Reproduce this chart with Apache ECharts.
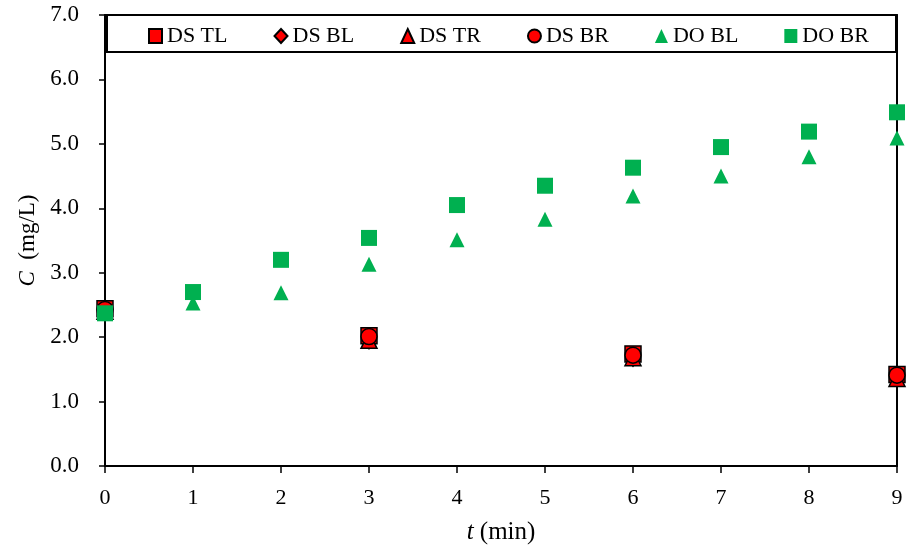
<!DOCTYPE html>
<html>
<head>
<meta charset="utf-8">
<script src="https://cdn.jsdelivr.net/npm/echarts@6/dist/echarts.min.js"></script>
<style>
  html, body { margin: 0; padding: 0; background: #fff; }
  #chart { width: 908px; height: 550px; }
</style>
</head>
<body>
<div id="chart"></div>
<script>
// Sampling times (min)
const tDS = [0, 3, 6, 9];
const tDO = [0, 1, 2, 3, 4, 5, 6, 7, 8, 9];

// Concentrations (mg/L)
const dsTL = [2.44, 2.02, 1.74, 1.42];
const dsBL = [2.40, 1.95, 1.68, 1.38];
const dsTR = [2.40, 1.95, 1.68, 1.36];
const dsBR = [2.43, 2.01, 1.72, 1.41];
const doBL = [2.37, 2.53, 2.69, 3.13, 3.51, 3.83, 4.19, 4.50, 4.80, 5.09];
const doBR = [2.37, 2.70, 3.20, 3.54, 4.05, 4.35, 4.63, 4.95, 5.19, 5.49];

const seriesNames = ['DS TL', 'DS BL', 'DS TR', 'DS BR', 'DO BL', 'DO BR'];

const FONT = '"Liberation Serif", "Times New Roman", serif';
const RED = '#FF0000';
const GREEN = '#00B050';

const pairs = (xs, ys) => xs.map((x, i) => [x, ys[i]]);

function dsSeries(name, symbol, size, data) {
  return {
    name, type: 'scatter', symbol, symbolSize: size,
    data: pairs(tDS, data),
    itemStyle: { color: RED, borderColor: '#000', borderWidth: 1.5, opacity: 1 }
  };
}
function doSeries(name, symbol, size, data) {
  return {
    name, type: 'scatter', symbol, symbolSize: size,
    data: pairs(tDO, data),
    itemStyle: { color: GREEN, opacity: 1 }
  };
}

const chart = echarts.init(document.getElementById('chart'));
chart.setOption({
  animation: false,
  backgroundColor: '#fff',
  textStyle: { fontFamily: FONT },
  grid: { left: 105, right: 11, top: 15, bottom: 84, containLabel: false },
  // framed box behind the legend
  graphic: [{
    type: 'rect', z: 0,
    shape: { x: 107, y: 15, width: 789, height: 37 },
    style: { fill: '#fff', stroke: '#000', lineWidth: 2 }
  }],
  legend: {
    data: seriesNames,
    top: 20, left: 143,
    z: 5,
    itemWidth: 13, itemHeight: 14, itemGap: 46,
    textStyle: { fontFamily: FONT, fontSize: 22, color: '#000' }
  },
  xAxis: [{
    type: 'value', min: 0, max: 9, interval: 1,
    name: '{i|t} (min)', nameLocation: 'middle', nameGap: 54,
    nameTextStyle: {
      fontFamily: FONT, fontSize: 25, color: '#000',
      rich: { i: { fontFamily: FONT, fontSize: 25, fontStyle: 'italic', color: '#000' } }
    },
    axisLine: { show: true, lineStyle: { color: '#000', width: 2 } },
    axisTick: { show: true, length: 7, lineStyle: { color: '#000', width: 1.5 } },
    axisLabel: { fontFamily: FONT, fontSize: 22, color: '#000', margin: 21 },
    splitLine: { show: false }
  }, {
    type: 'value', min: 0, max: 9, position: 'top',
    axisLine: { show: true, onZero: false, lineStyle: { color: '#000', width: 2 } },
    axisTick: { show: false }, axisLabel: { show: false }, splitLine: { show: false }
  }],
  yAxis: [{
    type: 'value', min: 0, max: 7, interval: 1,
    name: '{i|C}  (mg/L)', nameLocation: 'middle', nameGap: 63, nameRotate: 90,
    nameTextStyle: {
      fontFamily: FONT, fontSize: 23, color: '#000',
      rich: { i: { fontFamily: FONT, fontSize: 23, fontStyle: 'italic', color: '#000' } }
    },
    axisLine: { show: true, lineStyle: { color: '#000', width: 2 } },
    axisTick: { show: true, length: 6, lineStyle: { color: '#000', width: 1.5 } },
    axisLabel: { fontFamily: FONT, fontSize: 23, color: '#000', margin: 26,
      formatter: v => v.toFixed(1) },
    splitLine: { show: false }
  }, {
    type: 'value', min: 0, max: 7, position: 'right',
    axisLine: { show: true, onZero: false, lineStyle: { color: '#000', width: 2 } },
    axisTick: { show: false }, axisLabel: { show: false }, splitLine: { show: false }
  }],
  series: [
    dsSeries('DS TL', 'rect', 16, dsTL),
    dsSeries('DS BL', 'diamond', [13, 17], dsBL),
    dsSeries('DS TR', 'triangle', 16, dsTR),
    dsSeries('DS BR', 'circle', 16, dsBR),
    doSeries('DO BL', 'triangle', 15, doBL),
    doSeries('DO BR', 'rect', 16, doBR)
  ]
});
</script>
</body>
</html>
